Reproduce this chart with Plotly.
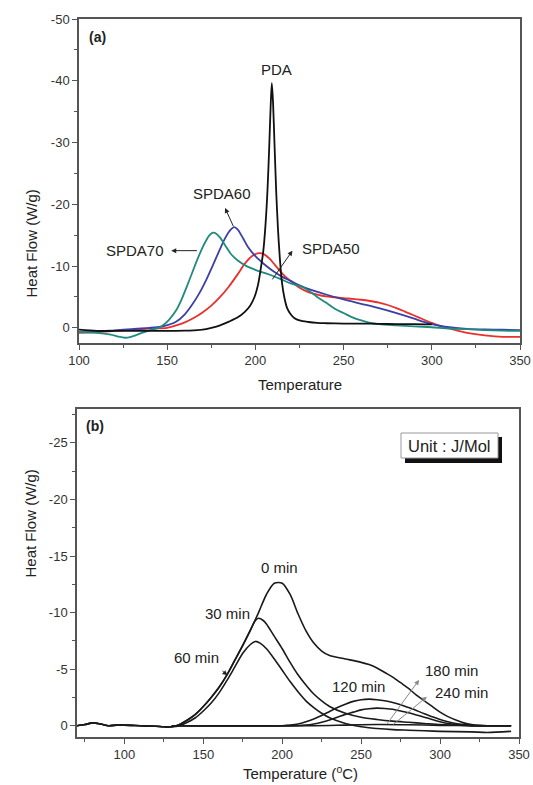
import plotly.graph_objects as go

# ---------------- Panel (a) data ----------------
pda_x = [100, 110, 120, 130, 140, 150, 160, 165, 170, 175, 180, 185, 190, 194, 197, 199.5, 201.5, 203, 204.5,
         205.8, 206.8, 207.8, 208.6, 209.3, 210.0, 210.8, 211.8, 212.8, 213.8, 215, 216.5, 218, 220, 222, 225,
         230, 235, 240, 250, 260, 270, 280, 290, 300]
pda_y = [0.3, 0.5, 0.5, 0.5, 0.5, 0.5, 0.45, 0.4, 0.3, 0.0, -0.4, -1.0, -1.7, -2.6, -3.6, -5.0, -7.0, -9.5, -12.5,
         -17, -22, -29, -35.5, -39.6, -36.5, -30, -22, -16, -11.5, -7.5, -4.8, -3.2, -2.2, -1.6, -1.2,
         -0.95, -0.8, -0.75, -0.7, -0.7, -0.65, -0.6, -0.6, -0.55]

spda70_x = [100, 110, 118, 122, 126, 130, 135, 140, 145, 148, 151, 155, 158, 161, 164, 167, 170, 172, 174, 176,
            178, 180, 183, 186, 190, 195, 200, 205, 210, 215, 220, 225, 230, 235, 240, 245, 250, 255, 260, 265,
            270, 280, 290, 300, 310, 320, 330, 340, 350]
spda70_y = [0.7, 0.8, 1.1, 1.4, 1.6, 1.4, 0.9, 0.4, 0.0, -0.5, -1.3, -2.8, -4.5, -6.6, -8.8, -11.0, -13.0, -14.1,
            -15.0, -15.4, -15.2, -14.6, -13.3, -12.0, -10.9, -10.0, -9.4, -8.9, -8.4, -7.8, -7.2, -6.8, -6.1,
            -5.0, -4.1, -3.1, -2.4, -1.7, -1.2, -0.8, -0.6, -0.4, -0.25, -0.1, 0.1, 0.2, 0.35, 0.45, 0.5]

spda60_x = [100, 110, 120, 130, 140, 148, 155, 160, 164, 168, 172, 176, 180, 183, 186, 188, 190, 193, 196, 200,
            205, 210, 215, 220, 225, 230, 240, 250, 260, 270, 280, 290, 295, 300, 305, 310, 320, 330, 340, 350]
spda60_y = [0.7, 0.6, 0.4, 0.2, 0.0, -0.3, -1.0, -2.2, -3.7, -5.5, -7.7, -10.2, -12.8, -14.6, -15.9, -16.3,
            -15.9, -14.5, -13.0, -11.6, -10.3, -9.2, -8.3, -7.6, -6.9, -6.3, -5.4, -4.6, -3.9, -3.2, -2.4, -1.5,
            -1.0, -0.6, -0.3, -0.1, 0.15, 0.25, 0.3, 0.35]

spda50_x = [100, 110, 120, 130, 140, 150, 155, 160, 165, 170, 175, 180, 185, 190, 194, 198, 202, 205, 208, 211,
            214, 217, 220, 225, 230, 235, 240, 245, 250, 255, 260, 265, 270, 275, 280, 285, 290, 295, 300, 305,
            310, 315, 320, 330, 340, 350]
spda50_y = [0.8, 0.7, 0.5, 0.3, 0.1, 0.0, -0.4, -0.9, -1.6, -2.5, -3.6, -5.0, -6.7, -8.7, -10.4, -11.6, -12.1,
            -11.9, -11.2, -10.2, -9.2, -8.3, -7.6, -6.5, -5.8, -5.4, -5.1, -4.95, -4.8, -4.7, -4.55, -4.35,
            -4.1, -3.7, -3.2, -2.6, -2.0, -1.4, -0.8, -0.3, 0.1, 0.5, 0.8, 1.2, 1.45, 1.45]

# ---------------- Panel (b) data ----------------
t0_x = [70, 75, 80, 85, 90, 95, 100, 110, 120, 125, 130, 135, 140, 145, 150, 155, 160, 165, 170, 175, 180, 185,
        190, 195, 200, 205, 210, 215, 220, 225, 230, 240, 250, 255, 260, 265, 270, 275, 280, 285, 290, 295,
        300, 305, 310, 315, 320, 325, 330, 340, 345]
t0_y = [0.0, -0.1, -0.25, -0.15, 0.0, -0.05, -0.05, 0.0, 0.05, 0.1, 0.1, -0.1, -0.5, -1.0, -1.7, -2.5, -3.4,
        -4.5, -5.8, -7.1, -8.5, -10.0, -11.6, -12.6, -12.6, -11.6, -9.9, -8.4, -7.3, -6.6, -6.2, -5.9, -5.6,
        -5.4, -5.1, -4.7, -4.3, -3.8, -3.3, -2.7, -2.2, -1.7, -1.2, -0.8, -0.5, -0.25, -0.1, -0.03, 0.0, 0.0, 0.0]

t30_x = [70, 75, 80, 85, 90, 95, 100, 110, 120, 125, 130, 135, 140, 145, 150, 155, 160, 165, 170, 175, 180, 183,
         185, 188, 190, 195, 200, 205, 210, 215, 220, 225, 230, 240, 250, 260, 270, 280, 290, 300, 310, 320, 345]
t30_y = [0.0, -0.1, -0.25, -0.15, 0.0, -0.05, -0.05, 0.0, 0.05, 0.1, 0.1, -0.1, -0.5, -1.0, -1.7, -2.5, -3.4,
         -4.5, -5.8, -7.1, -8.5, -9.3, -9.5, -9.3, -9.0, -7.9, -6.8, -5.6, -4.5, -3.6, -2.8, -2.2, -1.7, -1.1,
         -0.75, -0.55, -0.4, -0.3, -0.2, -0.1, -0.05, 0.0, 0.0]

t60_x = [70, 75, 80, 85, 90, 95, 100, 110, 120, 125, 130, 135, 140, 145, 150, 155, 160, 165, 170, 175, 180, 183,
         186, 190, 195, 200, 205, 210, 215, 220, 225, 230, 240, 250, 260, 270, 280, 290, 300, 320, 330, 345]
t60_y = [0.0, -0.1, -0.25, -0.15, 0.0, -0.05, -0.05, 0.0, 0.05, 0.1, 0.1, 0.0, -0.3, -0.7, -1.3, -2.0, -2.9,
         -4.0, -5.2, -6.4, -7.2, -7.45, -7.3, -6.8, -5.9, -4.9, -3.9, -3.0, -2.2, -1.6, -1.1, -0.7, -0.2, 0.1,
         0.25, 0.35, 0.4, 0.45, 0.5, 0.55, 0.6, 0.5]

t120_x = [130, 200, 205, 210, 215, 220, 225, 230, 235, 240, 245, 250, 255, 260, 265, 270, 275, 280, 285, 290,
          295, 300, 305, 310, 315, 320, 330, 345]
t120_y = [0.0, 0.0, -0.05, -0.15, -0.35, -0.6, -0.9, -1.25, -1.6, -1.9, -2.15, -2.3, -2.35, -2.3, -2.2, -2.05,
          -1.85, -1.6, -1.35, -1.05, -0.8, -0.55, -0.35, -0.2, -0.1, -0.03, 0.0, 0.0]

t180_x = [130, 210, 215, 220, 225, 230, 235, 240, 245, 250, 255, 260, 265, 270, 275, 280, 285, 290, 295, 300,
          305, 310, 315, 320, 330, 345]
t180_y = [0.0, 0.0, -0.05, -0.15, -0.3, -0.5, -0.75, -1.0, -1.2, -1.4, -1.5, -1.55, -1.52, -1.45, -1.3, -1.15,
          -0.95, -0.75, -0.55, -0.35, -0.2, -0.1, -0.05, 0.0, 0.0, 0.0]

t240_x = [130, 220, 240, 260, 280, 300, 320, 345]
t240_y = [0.0, 0.0, -0.05, -0.1, -0.08, -0.03, 0.0, 0.0]

# tick labels
a_xticks = [100, 150, 200, 250, 300, 350]
a_yticks = [-50, -40, -30, -20, -10, 0]
a_yminor = [-45, -35, -25, -15, -5]
a_xminor = [125, 175, 225, 275, 325]
b_xticks = [100, 150, 200, 250, 300, 350]
b_xminor = [75, 125, 175, 225, 275, 325]
b_yticks = [-25, -20, -15, -10, -5, 0]
b_yminor = [-27.5, -22.5, -17.5, -12.5, -7.5, -2.5]

FONT = "Liberation Sans, Arial, sans-serif"
TXT = "#222222"
AX = "#555555"

fig = go.Figure()
for xs, ys, col in [(spda50_x, spda50_y, "#e8302c"), (spda60_x, spda60_y, "#3b3fa6"),
                    (spda70_x, spda70_y, "#1f8a7e"), (pda_x, pda_y, "#111111")]:
    fig.add_trace(go.Scatter(x=xs, y=ys, mode="lines", xaxis="x", yaxis="y",
                             line=dict(color=col, width=1.8, shape="spline", smoothing=0.8),
                             showlegend=False, hoverinfo="skip"))
for xs, ys in [(t0_x, t0_y), (t30_x, t30_y), (t60_x, t60_y), (t120_x, t120_y), (t180_x, t180_y), (t240_x, t240_y)]:
    fig.add_trace(go.Scatter(x=xs, y=ys, mode="lines", xaxis="x2", yaxis="y2",
                             line=dict(color="#1a1a1a", width=1.6, shape="spline", smoothing=0.8),
                             showlegend=False, hoverinfo="skip"))

# pixel geometry
L, R, T, B = 77, 13, 19, 48
W, H = 533, 785
PW, PH = W - L - R, H - T - B


def px(xp):
    return (xp - L) / PW


def py(yp):
    return (H - B - yp) / PH


def axis_common():
    return dict(showline=True, linecolor=AX, linewidth=1.5, mirror=True, showgrid=False, zeroline=False,
                ticks="outside", ticklen=5, tickwidth=1.2, tickcolor=AX,
                tickfont=dict(family=FONT, size=13, color="#333333"))


xa = axis_common()
xa.update(domain=[px(79), 1.0], range=[100, 350], tickmode="array", tickvals=a_xticks,
          ticktext=[str(v) for v in a_xticks], anchor="y",
          minor=dict(tickmode="array", tickvals=a_xminor, ticks="outside", ticklen=3, tickcolor=AX))
ya = axis_common()
ya.update(domain=[py(343), 1.0], range=[2.45, -50], tickmode="array", tickvals=a_yticks,
          ticktext=[str(v) for v in a_yticks], anchor="x",
          minor=dict(tickmode="array", tickvals=a_yminor, ticks="outside", ticklen=3, tickcolor=AX))
xb = axis_common()
xb.update(domain=[0, px(519)], range=[70, 350], tickmode="array", tickvals=b_xticks,
          ticktext=[str(v) for v in b_xticks], anchor="y2",
          minor=dict(tickmode="array", tickvals=b_xminor, ticks="outside", ticklen=3, tickcolor=AX))
yb = axis_common()
yb.update(domain=[0, py(409)], range=[1.0, -28], tickmode="array", tickvals=b_yticks,
          ticktext=[str(v) for v in b_yticks], anchor="x2",
          minor=dict(tickmode="array", tickvals=b_yminor, ticks="outside", ticklen=3, tickcolor=AX))

ann = []


def label(x, y, text, xref, yref, size=15, bold=False):
    ann.append(dict(x=x, y=y, xref=xref, yref=yref, text=("<b>%s</b>" % text) if bold else text,
                    showarrow=False, font=dict(family=FONT, size=size, color=TXT),
                    xanchor="center", yanchor="middle"))


def arrow(x0, y0, x1, y1, xref, yref, color="#222222", width=1):
    ann.append(dict(x=x1, y=y1, ax=x0, ay=y0, xref=xref, yref=yref, axref=xref, ayref=yref,
                    text="", showarrow=True, arrowhead=2, arrowsize=1, arrowwidth=width, arrowcolor=color))


# panel (a) labels
label(212, -41.9, "PDA", "x", "y")
label(181, -21.7, "SPDA60", "x", "y")
label(132, -12.5, "SPDA70", "x", "y")
label(242.7, -12.8, "SPDA50", "x", "y")
arrow(187.9, -16.2, 182.8, -19.4, "x", "y")
arrow(167.7, -12.5, 152.3, -12.5, "x", "y")
arrow(209, -7.6, 221, -12.5, "x", "y")

# panel (b) labels
label(198.3, -14.0, "0 min", "x2", "y2")
label(165.2, -9.9, "30 min", "x2", "y2")
label(146, -6.0, "60 min", "x2", "y2")
label(248.3, -3.45, "120 min", "x2", "y2")
label(307.2, -4.9, "180 min", "x2", "y2")
label(313.6, -2.94, "240 min", "x2", "y2")
arrow(161.2, -4.95, 165.3, -4.45, "x2", "y2")
arrow(265.6, 0, 286.7, -4.05, "x2", "y2", color="#888888")
arrow(269.4, 0, 291.6, -2.55, "x2", "y2", color="#888888")

# panel tags and axis titles
label(px(97), py(37), "(a)", "paper", "paper", size=14, bold=True)
label(px(95), py(426), "(b)", "paper", "paper", size=14, bold=True)
label(px(300), py(384), "Temperature", "paper", "paper")
label(px(300), py(773), "Temperature (<sup>o</sup>C)", "paper", "paper")
ann.append(dict(x=px(20), y=py(188), xref="paper", yref="paper", text="Heat Flow (W/g)", textangle=-90,
                showarrow=False, font=dict(family=FONT, size=15, color=TXT)))
ann.append(dict(x=px(19), y=py(580), xref="paper", yref="paper", text="Heat Flow (W/g)", textangle=-90,
                showarrow=False, font=dict(family=FONT, size=15, color=TXT)))
label(px(449.5), py(445.5), "Unit : J/Mol", "paper", "paper", size=16.5)

shapes = [
    dict(type="rect", xref="paper", yref="paper", x0=px(405), x1=px(502), y0=py(463), y1=py(437),
         fillcolor="#111111", line=dict(width=0), layer="above"),
    dict(type="rect", xref="paper", yref="paper", x0=px(401), x1=px(498), y0=py(458), y1=py(433),
         fillcolor="white", line=dict(color="#999999", width=1), layer="above"),
]

fig.update_layout(width=W, height=H, margin=dict(l=L, r=R, t=T, b=B, autoexpand=False),
                  paper_bgcolor="white", plot_bgcolor="white",
                  xaxis=xa, yaxis=ya, xaxis2=xb, yaxis2=yb,
                  annotations=ann, shapes=shapes, showlegend=False,
                  font=dict(family=FONT, color=TXT))
fig.write_html("out.html", config={"displayModeBar": False},
               post_script="document.body.style.margin='0px';document.body.style.overflow='hidden';")
